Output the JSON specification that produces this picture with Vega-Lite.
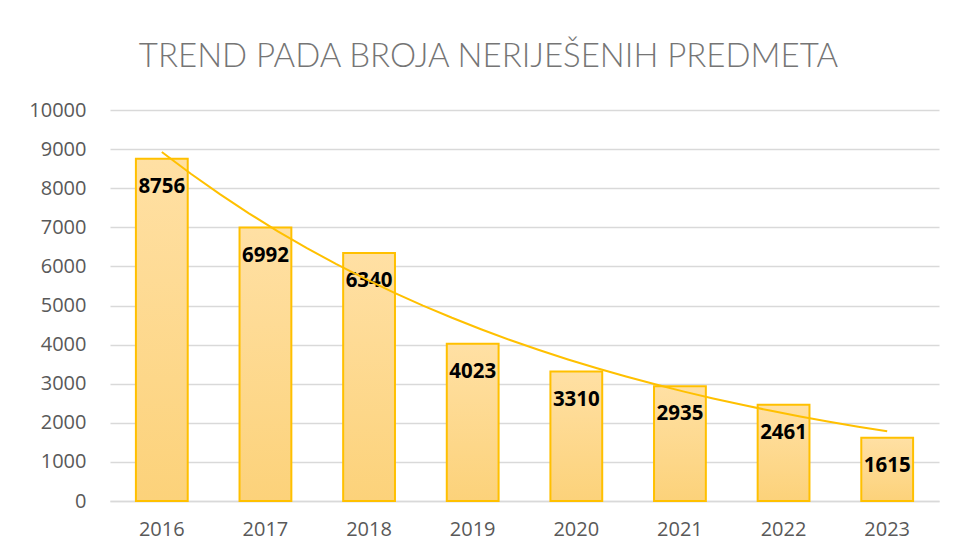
{
  "$schema": "https://vega.github.io/schema/vega-lite/v6.json",
  "autosize": "none",
  "width": 829,
  "height": 391,
  "padding": {"left": 110, "top": 110, "right": 16, "bottom": 57},
  "background": "white",
  "title": {
    "text": "TREND PADA BROJA NERIJEŠENIH PREDMETA",
    "font": "Lato",
    "fontWeight": 300,
    "fontSize": 33,
    "color": "#757575",
    "anchor": "middle",
    "offset": 26,
    "dx": -36
  },
  "config": {
    "view": {"stroke": null},
    "axis": {"labelFont": "Open Sans", "labelColor": "#595959", "labelFontSize": 20, "ticks": false, "title": null},
    "axisY": {"tickCount": 10, "format": "d", "labelOverlap": false, "domain": false, "labelPadding": 24, "gridColor": "#D9D9D9", "gridWidth": 1.3}
  },
  "data": {
    "values": [
      {"year": "2016", "i": 1, "value": 8756},
      {"year": "2017", "i": 2, "value": 6992},
      {"year": "2018", "i": 3, "value": 6340},
      {"year": "2019", "i": 4, "value": 4023},
      {"year": "2020", "i": 5, "value": 3310},
      {"year": "2021", "i": 6, "value": 2935},
      {"year": "2022", "i": 7, "value": 2461},
      {"year": "2023", "i": 8, "value": 1615}
    ]
  },
  "layer": [
    {
      "mark": {
        "type": "bar",
        "stroke": "#FFC000",
        "strokeWidth": 2,
        "color": {
          "gradient": "linear", "x1": 0, "y1": 0, "x2": 0, "y2": 1,
          "stops": [{"offset": 0, "color": "#FFE0A4"}, {"offset": 1, "color": "#FCD27A"}]
        }
      },
      "encoding": {
        "x": {
          "field": "year", "type": "ordinal",
          "scale": {"paddingInner": 0.5, "paddingOuter": 0.25},
          "axis": {"labelAngle": 0, "labelPadding": 18, "domainColor": "#D9D9D9", "domainWidth": 1.3}
        },
        "y": {
          "field": "value", "type": "quantitative",
          "scale": {"domain": [0, 10000], "nice": false}
        }
      }
    },
    {
      "mark": {"type": "text", "font": "Open Sans", "fontWeight": "bold", "fontSize": 20.5, "color": "#000000", "baseline": "middle", "dy": 28},
      "encoding": {
        "x": {"field": "year", "type": "ordinal", "scale": {"paddingInner": 0.5, "paddingOuter": 0.25}, "axis": null},
        "y": {"field": "value", "type": "quantitative"},
        "text": {"field": "value", "type": "quantitative", "format": "d"}
      }
    },
    {
      "transform": [{"regression": "value", "on": "i", "method": "exp", "extent": [1, 8]}],
      "mark": {"type": "line", "color": "#FFC000", "strokeWidth": 2},
      "encoding": {
        "x": {"field": "i", "type": "quantitative", "scale": {"domain": [0.5, 8.5], "nice": false, "zero": false}, "axis": null},
        "y": {"field": "value", "type": "quantitative"}
      }
    }
  ],
  "resolve": {"scale": {"x": "independent"}}
}
